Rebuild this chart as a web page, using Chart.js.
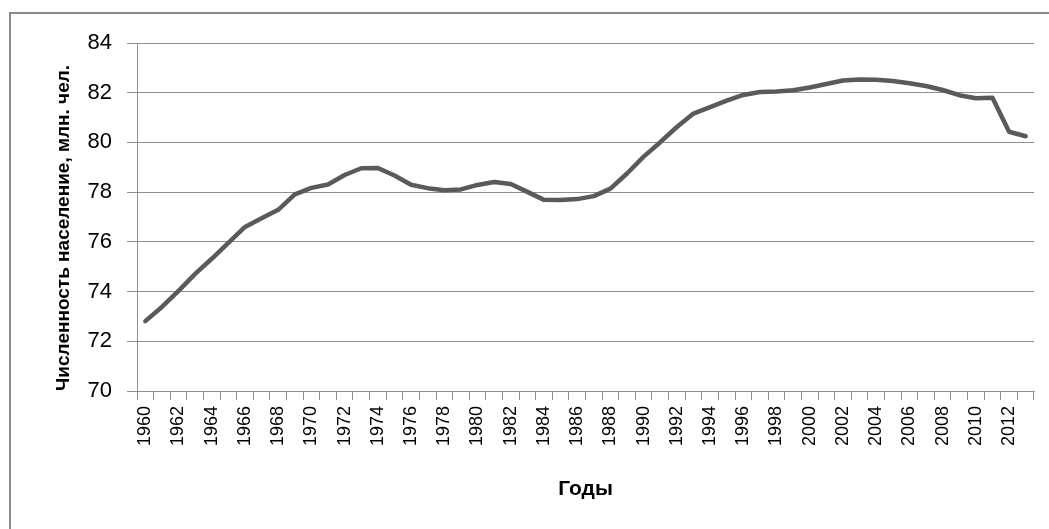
<!DOCTYPE html>
<html lang="ru">
<head>
<meta charset="utf-8">
<title>Численность населения</title>
<script src="https://cdn.jsdelivr.net/npm/chart.js@4/dist/chart.umd.min.js"></script>
<style>
  html, body { margin: 0; padding: 0; background: #ffffff; }
  #wrap { position: relative; width: 1049px; height: 529px; }
</style>
</head>
<body>
<div id="wrap"><canvas id="chart" width="1049" height="529"></canvas></div>
<script>
// Годы наблюдений
const years = [
  1960, 1961, 1962, 1963, 1964, 1965, 1966, 1967, 1968, 1969,
  1970, 1971, 1972, 1973, 1974, 1975, 1976, 1977, 1978, 1979,
  1980, 1981, 1982, 1983, 1984, 1985, 1986, 1987, 1988, 1989,
  1990, 1991, 1992, 1993, 1994, 1995, 1996, 1997, 1998, 1999,
  2000, 2001, 2002, 2003, 2004, 2005, 2006, 2007, 2008, 2009,
  2010, 2011, 2012, 2013
];

// Численность населения, млн. чел.
const population = [
  72.81, 73.38, 74.03, 74.71, 75.32, 75.96, 76.60, 76.95, 77.29, 77.91,
  78.17, 78.31, 78.69, 78.96, 78.97, 78.67, 78.30, 78.16, 78.08, 78.11,
  78.29, 78.41, 78.33, 78.01, 77.69, 77.68, 77.72, 77.84, 78.14, 78.75,
  79.43, 80.01, 80.62, 81.16, 81.42, 81.68, 81.91, 82.03, 82.05, 82.10,
  82.21, 82.35, 82.49, 82.53, 82.52, 82.47, 82.38, 82.27, 82.11, 81.90,
  81.78, 81.80, 80.43, 80.25
];

// Шкала значений
const yMin = 70;
const yMax = 84;
const yStep = 2;

const axisTitleY = 'Численность население, млн. чел.';
const axisTitleX = 'Годы';

const gridGray = '#8f8f8f';
const fontFamily = '"Liberation Sans", Arial, sans-serif';

// Рамка области диаграммы (видны верхняя и левая стороны)
const frame = {
  id: 'frame',
  beforeDraw(chart) {
    const ctx = chart.ctx;
    ctx.save();
    ctx.fillStyle = '#ffffff';
    ctx.fillRect(0, 0, chart.width, chart.height);
    ctx.strokeStyle = '#8a8a8a';
    ctx.lineWidth = 2;
    ctx.beginPath();
    ctx.moveTo(10, chart.height + 2);
    ctx.lineTo(10, 13);
    ctx.lineTo(chart.width + 2, 13);
    ctx.stroke();
    ctx.restore();
  }
};

new Chart(document.getElementById('chart'), {
  type: 'line',
  data: {
    labels: years.map(String),
    datasets: [{
      data: population,
      borderColor: '#5a5a5a',
      borderWidth: 4.5,
      borderJoinStyle: 'round',
      borderCapStyle: 'round',
      pointRadius: 0,
      pointHoverRadius: 0,
      tension: 0,
      fill: false
    }]
  },
  options: {
    responsive: false,
    animation: false,
    devicePixelRatio: 1,
    layout: { padding: { left: 0, top: 43, right: 15, bottom: 0 } },
    plugins: {
      legend: { display: false },
      tooltip: { enabled: false },
      title: { display: false }
    },
    scales: {
      x: {
        type: 'category',
        offset: true,
        grid: {
          offset: true,
          drawOnChartArea: false,
          drawTicks: true,
          tickLength: 9,
          color: gridGray,
          lineWidth: 1
        },
        border: { display: true, color: gridGray, width: 1 },
        ticks: {
          autoSkip: false,
          maxRotation: 90,
          minRotation: 90,
          padding: 6,
          color: '#000000',
          font: { family: fontFamily, size: 18 },
          callback(value, index) {
            return index % 2 === 0 ? this.getLabelForValue(value) : '';
          }
        },
        title: {
          display: true,
          text: axisTitleX,
          color: '#000000',
          font: { family: fontFamily, size: 21, weight: 'bold' },
          padding: { top: 0, bottom: 27 }
        },
        afterFit(scale) {
          scale.height = 138;
          scale.paddingLeft = 0;
          scale.paddingRight = 0;
        }
      },
      y: {
        min: yMin,
        max: yMax,
        grid: {
          color: gridGray,
          lineWidth: 1,
          drawTicks: true,
          tickLength: 10
        },
        border: { display: true, color: gridGray, width: 1 },
        ticks: {
          stepSize: yStep,
          padding: 15,
          color: '#000000',
          font: { family: fontFamily, size: 22 }
        },
        title: {
          display: true,
          text: axisTitleY,
          align: 'start',
          color: '#000000',
          font: { family: fontFamily, size: 19, weight: 'bold' },
          padding: { top: 52, bottom: 0 }
        },
        afterFit(scale) { scale.width = 137; }
      }
    }
  },
  plugins: [frame]
});
</script>
</body>
</html>
